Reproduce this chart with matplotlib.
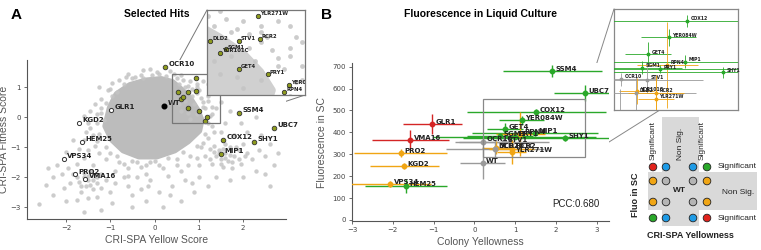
import matplotlib
matplotlib.use('Agg')
import matplotlib.pyplot as plt
from matplotlib.patches import Polygon, Rectangle, ConnectionPatch

# ---------------- panel A data ----------------
# dense core of the background cloud (outline)
core_x = [-1.0, -0.85, -0.55, -0.2, 0.15, 0.4, 0.6, 0.8, 0.95, 1.05, 1.0, 0.75, 0.45, 0.05, -0.35, -0.7, -0.95, -1.1]
core_y = [0.3, 0.75, 1.05, 1.2, 1.25, 1.15, 0.9, 0.6, 0.25, -0.1, -0.45, -0.8, -1.1, -1.3, -1.3, -1.1, -0.75, -0.3]

# scattered background strains
bg_x = [-1.26, -1.06, -1.1, -0.27, -0.31, -0.5, -0.7, -0.85, -0.95, -1.2, -1.3, -1.15, -1.45, -0.1, 0.1, -0.6,
        -1.4, -1.55, -1.3, -1.7, -1.5, -1.85, -2.0, -1.25, -1.1, -1.6, -2.2, -1.95, -1.75, -1.4,
        -1.6, -1.45, -1.35, -1.5, -1.7, -1.3, -1.2, -1.55, -1.4, -1.65, -1.9, -2.05, -2.3, -2.45, -2.3,
        -2.6, -2.0, -1.75, -1.5, -1.3, -1.0, -0.9, -1.1, -1.2, -1.6, -2.1, -0.95, -0.5, -2.4, -1.85,
        -0.8, -0.6, -0.4, -0.2, 0.0, 0.2, -0.9, -0.7, -0.4, -0.1, 0.3, 0.5, -0.6, -0.3, 0.1, 0.4, 0.7,
        0.6, 0.2, -0.2, 0.9, 1.0, 1.2, -0.5,
        1.2, 1.35, 1.45, 1.6, 1.7, 1.5, 1.4, 1.65, 1.8, 1.9, 2.0, 2.1, 2.2, 1.95, 1.75, 1.55, 1.3, 1.15,
        1.05, 2.35, 2.5, 2.6, 2.4, 2.7, 2.3, 2.0, 1.7, 1.4, 2.6, 2.1, 1.8, 1.5, 1.3, 1.6, 1.95, 2.3,
        1.4, 1.1, 1.3, 1.5, 1.7, 1.0, 0.8, 1.2, 0.6, 0.35, 2.8, 2.5,
        0.7, 0.85, 1.05, 0.55, 0.9, 1.15, 0.6, 0.7, 1.25, 0.95, 0.8, 1.1, 1.25, 0.65, 0.95, 1.2, 0.85,
        1.3, 0.55, 0.75,
        -1.2, -1.0, -0.8, -0.45, -0.05, 0.25, 0.5, 0.75, 0.95, 1.1, 1.2, 1.15, 0.95, 0.65, 0.3, -0.1,
        -0.5, -0.85, -1.1, -1.25, -1.3, -1.2, -1.35, -0.95, -0.65, -0.25, 0.05, 0.45, 0.95, 1.2, 1.3,
        1.35, 1.1, 0.8, 0.5, 0.1, -0.3, -0.7, -1.0, -1.35, -1.5, -1.45, -1.6, -1.6, -0.6, 0.75, 0.95,
        1.25, 1.0, 0.6, -0.2, -0.15, 0.35, 0.85,
        1.45, 1.55, 1.6, 1.7, 1.35, 1.5, 1.75, 1.85, 1.6, 1.25, 1.9, 2.05,
        -1.6, -1.4, -1.5, -1.3, -1.45, -1.65, -1.75, -1.2]
bg_y = [1.0, 0.9, 0.47, 1.57, 1.4, 1.3, 1.1, 0.85, 0.7, 0.3, 0.1, -0.1, -0.35, 1.6, 1.45, 1.45,
        -0.6, -0.5, -0.8, -1.05, -1.1, -0.75, -1.15, -1.2, -1.4, -1.35, -1.6, -1.7, -1.55, -1.6,
        -1.85, -1.8, -1.95, -2.1, -2.15, -2.2, -1.9, -2.3, -2.4, -2.5, -2.2, -2.35, -2.0, -2.25, -2.6,
        -2.9, -2.8, -2.75, -2.7, -2.65, -2.5, -2.2, -2.1, -3.1, -3.15, -1.9, -2.85, -2.6, -1.7, -1.9,
        -1.5, -1.7, -1.5, -1.6, -1.45, -1.7, -1.8, -2.0, -2.0, -2.1, -1.95, -1.6, -2.3, -2.4, -2.5, -2.3, -2.1,
        -2.8, -3.0, -2.8, -2.5, -2.0, -2.3, -3.0,
        -0.7, -0.95, -1.1, -1.2, -1.0, -1.4, -1.3, -1.45, -1.3, -1.1, -0.9, -1.2, -1.4, -1.55, -1.7, -1.65, -1.55, -1.3,
        -1.0, -1.1, -1.3, -0.9, -0.6, -1.6, -1.8, -2.0, -2.1, -2.0, -2.3, -0.5, -0.6, -0.5, -0.3, -0.2, -0.2, 0.0,
        0.3, 0.5, 0.8, 0.5, 0.2, 0.9, 1.2, 1.1, 1.4, 1.55, -1.2, -1.9,
        1.0, 0.7, 0.65, 1.1, 0.45, 0.3, 0.2, 0.55, 0.05, 0.1, -0.05, 1.2, 0.9, 1.25, 1.1, 0.55, 0.95,
        0.35, 0.45, 0.15,
        0.6, 0.95, 1.25, 1.35, 1.4, 1.38, 1.3, 1.05, 0.8, 0.35, -0.2, -0.55, -0.95, -1.15, -1.35, -1.5,
        -1.45, -1.3, -1.0, -0.55, -0.2, 0.15, 0.45, 1.15, 1.35, 1.3, 1.5, 1.45, 1.0, 0.7, 0.1,
        -0.5, -0.85, -1.3, -1.4, -1.6, -1.65, -1.55, -1.2, -0.95, -0.2, 0.2, 0.05, -0.75, -1.95, -1.6, -1.35,
        -1.05, -1.6, -1.8, -1.9, -2.3, -2.6, -2.2,
        -1.2, -1.05, -1.35, -1.25, -1.15, -1.55, -1.5, -1.0, -0.9, -1.4, -1.4, -1.3,
        -2.0, -2.1, -1.95, -2.0, -2.25, -2.3, -2.0, -2.35]

hit_names = ['OCR10', 'DLD2', 'YCR101C', 'SGM1', 'GET4', 'STV1', 'YLR271W', 'RCR2', 'PRY1', 'RPN4',
             'YER084W', 'SSM4', 'UBC7', 'COX12', 'SHY1', 'MIP1']
hit_x = [0.24, 0.52, 0.60, 0.65, 0.76, 0.76, 0.93, 0.94, 1.01, 1.15, 1.19, 1.91, 2.70, 1.55, 2.25, 1.51]
hit_y = [1.67, 0.83, 0.60, 0.67, 0.30, 0.83, 1.30, 0.87, 0.20, -0.13, 0.00, 0.13, -0.37, -0.77, -0.83, -1.23]

ctrl_names = ['GLR1', 'KGD2', 'HEM25', 'VPS34', 'PRO2', 'VMA16']
ctrl_x = [-0.99, -1.71, -1.64, -2.05, -1.80, -1.57]
ctrl_y = [0.23, -0.20, -0.84, -1.40, -1.91, -2.07]

wt_x, wt_y = 0.22, 0.37

# ---------------- panel B data ----------------
b_names = ['SSM4', 'UBC7', 'COX12', 'GLR1', 'YER084W', 'GET4', 'MIP1', 'SHY1', 'RPN4', 'SGM1', 'PRY1',
           'VMA16', 'OCR10', 'STV1', 'YCR101C', 'DLD2', 'RCR2', 'YLR271W', 'PRO2', 'KGD2', 'WT',
           'VPS34', 'HEM25']
b_x = [1.91, 2.70, 1.52, -1.03, 1.16, 0.75, 1.48, 2.23, 1.13, 0.63, 0.99,
       -1.57, 0.22, 0.73, 0.53, 0.51, 0.91, 0.91, -1.81, -1.72, 0.20, -2.06, -1.67]
b_y = [680, 580, 493, 438, 455, 416, 398, 374, 391, 384, 381,
       365, 358, 356, 330, 326, 326, 312, 306, 247, 261, 164, 155]
b_xerr = [1.22, 0.74, 1.70, 0.73, 0.55, 0.45, 1.55, 2.50, 0.60, 0.80, 2.00,
          0.95, 0.70, 1.10, 0.35, 1.20, 0.55, 0.35, 1.15, 0.85, 0.55, 1.00, 1.00]
b_yerr = [27, 35, 15, 45, 20, 28, 15, 13, 100, 15, 10,
          45, 15, 30, 30, 40, 40, 55, 20, 15, 75, 15, 30]
b_cat = ['g', 'g', 'g', 'r', 'g', 'g', 'g', 'g', 'o', 'g', 'g',
         'r', 'n', 'n', 'o', 'n', 'o', 'o', 'o', 'o', 'n', 'o', 'g']
cat_colors = {'g': '#2aa82a', 'r': '#d42525', 'o': '#f0a514', 'n': '#9a9a9a'}

# legend diagram (quadrant key)
key_colors = [['#e0231c', '#1e9be6', '#1e9be6', '#2aa82a'],
              ['#f0a514', '#b4b4b4', '#b4b4b4', '#f0a514'],
              ['#f0a514', '#b4b4b4', '#b4b4b4', '#f0a514'],
              ['#2aa82a', '#1e9be6', '#1e9be6', '#e0231c']]

plt.rcParams['font.family'] = ['DejaVu Sans']
W, H = 761, 250
fig = plt.figure(figsize=(W / 100, H / 100), dpi=100)

def px_axes(x0, y0, x1, y1):
    return fig.add_axes([x0 / W, 1 - y1 / H, (x1 - x0) / W, (y1 - y0) / H])

def style(ax):
    for s in ['top', 'right']:
        ax.spines[s].set_visible(False)
    for s in ['left', 'bottom']:
        ax.spines[s].set_color('#555555')
        ax.spines[s].set_linewidth(0.8)
    ax.tick_params(labelsize=5, length=2.5, width=0.6, color='#555555', labelcolor='#444444', pad=2)

LAB = dict(family='Liberation Sans', color='#555555', fontsize=7.5)
cloud_col = '#c4c4c4'
olive = '#8f9c1e'

# ---------------- panel A ----------------
axA = px_axes(27, 60, 286, 219)
style(axA)
axA.add_patch(Polygon(list(zip(core_x, core_y)), closed=True, fc='#bcbcbc', ec='#bcbcbc', lw=5,
                      joinstyle='round', zorder=1))
axA.scatter(bg_x, bg_y, s=10, color=cloud_col, alpha=0.85, lw=0, zorder=1)
axA.scatter(ctrl_x, ctrl_y, s=9, facecolor='white', edgecolor='#333333', lw=0.7, zorder=3)
axA.scatter(hit_x, hit_y, s=11, facecolor=olive, edgecolor='#333333', lw=0.6, zorder=3)
axA.scatter([wt_x], [wt_y], s=11, color='black', zorder=3)
for n, x, y in zip(ctrl_names, ctrl_x, ctrl_y):
    axA.annotate(n, (x, y), xytext=(2.5, 2), textcoords='offset points', fontsize=5,
                 fontweight='bold', va='center', color='#222222')
for n, x, y in zip(hit_names, hit_x, hit_y):
    if n in ['OCR10', 'SSM4', 'UBC7', 'COX12', 'SHY1', 'MIP1']:
        axA.annotate(n, (x, y), xytext=(2.5, 2), textcoords='offset points', fontsize=5,
                     fontweight='bold', va='center', color='#222222')
axA.annotate('WT', (wt_x, wt_y), xytext=(2.5, 2), textcoords='offset points', fontsize=5,
             fontweight='bold', va='center', color='#222222')
axA.set_xlim(-2.88, 2.97)
axA.set_ylim(-3.4, 1.9)
axA.set_xticks([-2, -1, 0, 1, 2])
axA.set_yticks([-3, -2, -1, 0, 1])
axA.set_xlabel('CRI-SPA Yellow Score', labelpad=3, **LAB)
axA.set_ylabel('CRI-SPA Fitness Score', labelpad=1, **LAB)
axA.set_title('Selected Hits', fontsize=7.5, fontweight='bold', family='Liberation Sans', pad=31)
axA.add_patch(Rectangle((0.4, -0.2), 1.09, 1.63, fill=False, ec='#777777', lw=0.9, zorder=4))

insA = px_axes(207, 10, 305, 95)
insA.add_patch(Polygon(list(zip(core_x, core_y)), closed=True, fc='#d0d0d0', ec='#d0d0d0', lw=5,
                       joinstyle='round', zorder=1))
insA.scatter(bg_x, bg_y, s=12, color=cloud_col, alpha=0.85, lw=0, zorder=1)
insA.scatter(hit_x, hit_y, s=10, facecolor=olive, edgecolor='#333333', lw=0.6, zorder=3)
for n, x, y in zip(hit_names, hit_x, hit_y):
    insA.annotate(n, (x, y), xytext=(1.5, 1.5), textcoords='offset points', fontsize=3.8,
                  fontweight='bold', va='center', color='#222222', clip_on=True)
insA.set_xlim(0.49, 1.33)
insA.set_ylim(-0.19, 1.41)
insA.set_xticks([])
insA.set_yticks([])
for s in insA.spines.values():
    s.set_color('#777777')
    s.set_linewidth(0.9)
for xyA, xyB in [((0.4, 1.43), (0, 1)), ((1.49, -0.2), (1, 0))]:
    fig.add_artist(ConnectionPatch(xyA, xyB, coordsA=axA.transData, coordsB=insA.transAxes,
                                   color='#777777', lw=0.7, zorder=0))

# ---------------- panel B ----------------
axB = px_axes(352, 63, 609, 221)
style(axB)

def draw_b(ax, fs, ms, lw):
    for n, x, y, xe, ye, c in zip(b_names, b_x, b_y, b_xerr, b_yerr, b_cat):
        col = cat_colors[c]
        ax.errorbar(x, y, xerr=xe, yerr=ye, fmt='o', ms=ms, color=col, ecolor=col, elinewidth=lw,
                    capsize=0, mec=col, zorder=3)
        ax.annotate(n, (x, y), xytext=(2.5, 1.5), textcoords='offset points', fontsize=fs,
                    fontweight='bold', va='center', color='#222222', zorder=5,
                    annotation_clip=True)

draw_b(axB, 5, 3.2, 1.0)
axB.set_xlim(-3, 3.3)
axB.set_ylim(-5, 717)
axB.set_xticks([-3, -2, -1, 0, 1, 2, 3])
axB.set_yticks([0, 100, 200, 300, 400, 500, 600, 700])
axB.set_xlabel('Colony Yellowness', labelpad=3, **LAB)
axB.set_ylabel('Fluorescence in SC', labelpad=4, **LAB)
axB.set_title('Fluorescence in Liquid Culture', fontsize=7.5, fontweight='bold',
              family='Liberation Sans', pad=33, x=0.5)
axB.text(3.06, 73, 'PCC:0.680', ha='right', va='center', fontsize=7, family='Liberation Sans',
         color='#222222')
axB.add_patch(Rectangle((0.2, 288), 2.52, 264, fill=False, ec='#888888', lw=0.9, zorder=4))

insB = px_axes(614, 9, 738, 110)
insB.set_facecolor('white')
draw_b(insB, 3.3, 1.8, 0.6)
insB.set_xlim(0.08, 2.53)
insB.set_ylim(286, 521)
insB.set_xticks([])
insB.set_yticks([])
for s in insB.spines.values():
    s.set_color('#888888')
    s.set_linewidth(0.9)
for xyA, xyB in [((2.72, 552), (0, 1)), ((2.72, 288), (0.37, 0))]:
    fig.add_artist(ConnectionPatch(xyA, xyB, coordsA=axB.transData, coordsB=insB.transAxes,
                                   color='#888888', lw=0.7, zorder=0))

# ---------------- quadrant key ----------------
key = fig.add_axes([0, 0, 1, 1], zorder=-1)
key.set_xlim(0, W)
key.set_ylim(H, 0)
key.axis('off')
key.add_patch(Rectangle((662, 117), 37, 109, fc='#d9d9d9', ec='none'))
key.add_patch(Rectangle((648, 172), 109, 38, fc='#d9d9d9', ec='none'))
cols = [653, 666, 693, 707]
rows = [167, 181, 202, 218]
for r, row in zip(rows, key_colors):
    key.scatter(cols, [r] * 4, s=30, c=row, edgecolors='#222222', linewidths=0.6, zorder=3)
KF = dict(family='Liberation Sans', fontsize=6, color='#222222')
key.text(679, 191, 'WT', ha='center', va='center', fontweight='bold', **KF)
for x, t in [(653, 'Significant'), (681, 'Non Sig.'), (702, 'Significant')]:
    key.text(x, 160, t, rotation=90, ha='center', va='bottom', **KF)
key.text(718, 167, 'Significant', ha='left', va='center', **KF)
key.text(722, 193, 'Non Sig.', ha='left', va='center', **KF)
key.text(718, 219, 'Significant', ha='left', va='center', **KF)
key.text(635, 195, 'Fluo in SC', rotation=90, ha='center', va='center', fontweight='bold',
         family='Liberation Sans', fontsize=6.5, color='#222222')
key.text(690, 235, 'CRI-SPA Yellowness', ha='center', va='center', fontweight='bold',
         family='Liberation Sans', fontsize=6.5, color='#222222')

fig.text(16 / W, 1 - 15 / H, 'A', fontsize=11, fontweight='bold', family='Liberation Sans',
         ha='center', va='center')
fig.text(327 / W, 1 - 15 / H, 'B', fontsize=11, fontweight='bold', family='Liberation Sans',
         ha='center', va='center')

fig.savefig('out.png', dpi=100)
